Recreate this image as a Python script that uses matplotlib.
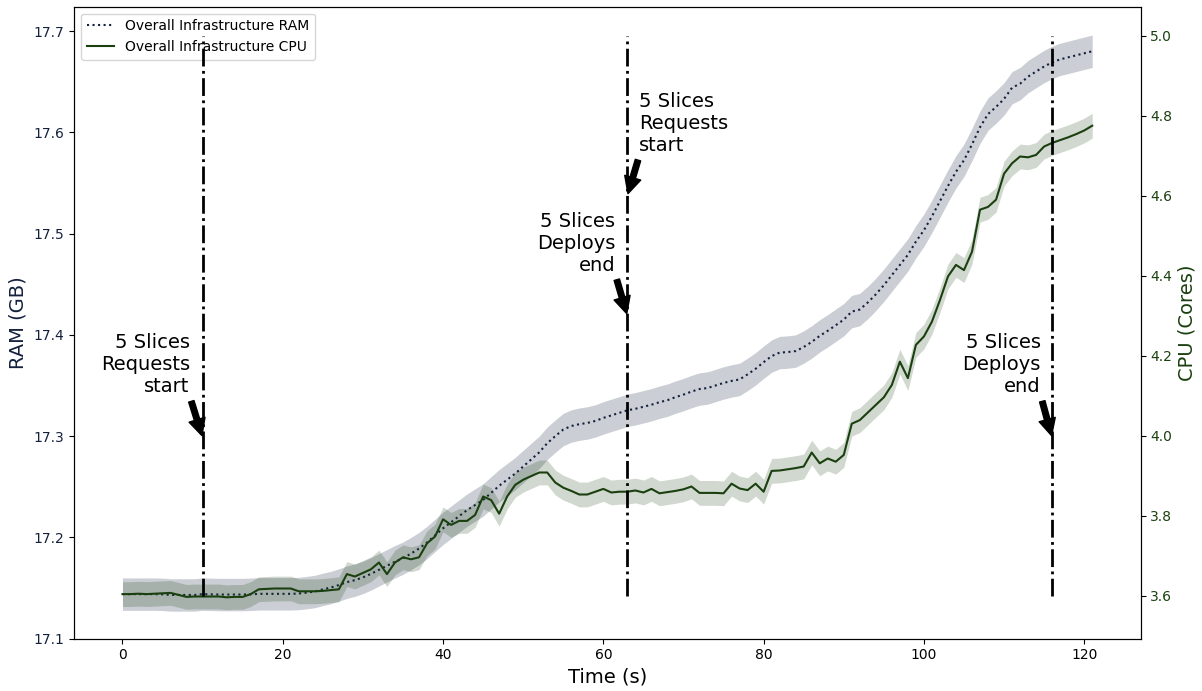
#!/usr/bin/env python3
"""
Overall infrastructure RAM / CPU during 5 slice requests and deploys
"""

import numpy as np
import matplotlib
matplotlib.use("Agg")
import matplotlib.pyplot as plt

# --- data ---
time_s = list(range(0, 122))

ram_gb = [
    17.1440, 17.1440, 17.1440, 17.1440, 17.1440, 17.1438, 17.1432, 17.1432, 17.1432, 17.1432,
    17.1440, 17.1438, 17.1436, 17.1436, 17.1436, 17.1436, 17.1438, 17.1443, 17.1443, 17.1443,
    17.1443, 17.1443, 17.1446, 17.1455, 17.1466, 17.1487, 17.1505, 17.1530, 17.1558, 17.1578,
    17.1605, 17.1640, 17.1680, 17.1720, 17.1760, 17.1795, 17.1840, 17.1890, 17.1950, 17.2020,
    17.2090, 17.2150, 17.2210, 17.2270, 17.2320, 17.2370, 17.2440, 17.2510, 17.2570, 17.2630,
    17.2700, 17.2770, 17.2840, 17.2930, 17.3000, 17.3065, 17.3100, 17.3118, 17.3130, 17.3150,
    17.3180, 17.3205, 17.3230, 17.3255, 17.3270, 17.3290, 17.3310, 17.3335, 17.3355, 17.3385,
    17.3410, 17.3440, 17.3465, 17.3475, 17.3500, 17.3525, 17.3545, 17.3560, 17.3610, 17.3665,
    17.3730, 17.3790, 17.3825, 17.3830, 17.3840, 17.3880, 17.3930, 17.3990, 17.4040, 17.4095,
    17.4150, 17.4230, 17.4250, 17.4320, 17.4400, 17.4490, 17.4590, 17.4690, 17.4790, 17.4920,
    17.5033, 17.5170, 17.5320, 17.5470, 17.5610, 17.5724, 17.5880, 17.6050, 17.6180, 17.6250,
    17.6330, 17.6440, 17.6480, 17.6550, 17.6600, 17.6650, 17.6690, 17.6720, 17.6740, 17.6760,
    17.6780, 17.6800,
]

cpu_cores = [
    3.604, 3.604, 3.605, 3.604, 3.605, 3.606, 3.607, 3.602, 3.597, 3.598,
    3.598, 3.598, 3.598, 3.596, 3.597, 3.597, 3.604, 3.616, 3.617, 3.618,
    3.618, 3.618, 3.611, 3.611, 3.611, 3.612, 3.614, 3.616, 3.654, 3.648,
    3.657, 3.666, 3.683, 3.654, 3.683, 3.696, 3.691, 3.696, 3.731, 3.748,
    3.791, 3.777, 3.787, 3.787, 3.802, 3.848, 3.839, 3.805, 3.848, 3.877,
    3.890, 3.899, 3.908, 3.908, 3.883, 3.870, 3.862, 3.853, 3.853, 3.860,
    3.867, 3.858, 3.860, 3.860, 3.863, 3.858, 3.867, 3.856, 3.859, 3.862,
    3.866, 3.873, 3.857, 3.857, 3.857, 3.856, 3.880, 3.868, 3.864, 3.880,
    3.860, 3.912, 3.913, 3.916, 3.919, 3.923, 3.958, 3.931, 3.943, 3.935,
    3.952, 4.030, 4.039, 4.058, 4.077, 4.096, 4.127, 4.185, 4.144, 4.227,
    4.248, 4.285, 4.339, 4.398, 4.427, 4.414, 4.460, 4.565, 4.572, 4.590,
    4.655, 4.681, 4.698, 4.696, 4.702, 4.723, 4.732, 4.739, 4.746, 4.754,
    4.763, 4.775,
]

# half width of the shaded bands
ram_err = 0.016
cpu_err = 0.031

# event markers: (label, arrow target on CPU axis, text position, alignment)
event_times = [10, 63, 116]
annotations = [
    ("5 Slices\nRequests\nstart", (10, 3.995), (8.4, 4.108), "right"),
    ("5 Slices\nRequests\nstart", (63, 4.600), (64.5, 4.711), "left"),
    ("5 Slices\nDeploys\nend", (63, 4.300), (61.5, 4.412), "right"),
    ("5 Slices\nDeploys\nend", (116, 3.995), (114.6, 4.108), "right"),
]

RAM_COLOR = "#14213d"
CPU_COLOR = "#1a400f"


def main():
    t = np.array(time_s)
    ram = np.array(ram_gb)
    cpu = np.array(cpu_cores)

    fig = plt.figure(figsize=(12.02, 6.91), dpi=100)
    ax1 = fig.add_axes([74 / 1202, 1 - 638.7 / 691, (1140.7 - 74) / 1202, (638.7 - 6.7) / 691])
    ax2 = ax1.twinx()

    # RAM
    l1, = ax1.plot(t, ram, ":", color=RAM_COLOR, lw=1.5, label="Overall Infrastructure RAM")
    ax1.fill_between(t, ram - ram_err, ram + ram_err, color=RAM_COLOR, alpha=0.22, lw=0)
    ax1.set_ylabel("RAM (GB)", color=RAM_COLOR, fontsize=14)
    ax1.tick_params(axis="y", labelcolor=RAM_COLOR)
    ax1.set_ylim(17.1, 17.724)
    ax1.set_xlim(-6.05, 127.05)
    ax1.set_xlabel("Time (s)", fontsize=14)

    # CPU
    l2, = ax2.plot(t, cpu, "-", color=CPU_COLOR, lw=1.5, label="Overall Infrastructure CPU")
    ax2.fill_between(t, cpu - cpu_err, cpu + cpu_err, color=CPU_COLOR, alpha=0.2, lw=0)
    ax2.set_ylabel("CPU (Cores)", color=CPU_COLOR, fontsize=14)
    ax2.tick_params(axis="y", labelcolor=CPU_COLOR)
    ax2.set_ylim(3.4925, 5.0725)

    # event lines
    for x in event_times:
        ax2.vlines(x, 3.6, 5.0, colors="black", linestyles="-.", lw=2)

    for label, xy, xytext, ha in annotations:
        ax2.annotate(label, xy=xy, xytext=xytext, ha=ha, fontsize=14,
                     arrowprops=dict(facecolor="black", shrink=0.05))

    ax1.legend(handles=[l1, l2], loc="upper left", fontsize=10)

    fig.savefig("out.png", dpi=100)
    plt.close(fig)


if __name__ == "__main__":
    main()
